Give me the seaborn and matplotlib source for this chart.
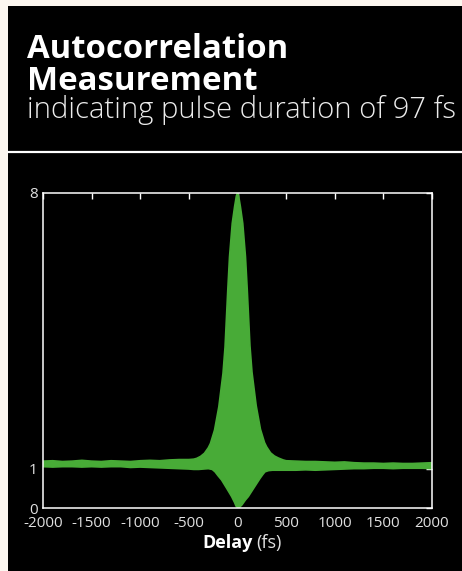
import numpy as np
import matplotlib
matplotlib.use("Agg")
import matplotlib.pyplot as plt
import seaborn as sns
from matplotlib import font_manager
from matplotlib.patches import Rectangle
from matplotlib.lines import Line2D

# upper envelope of the fringe-resolved autocorrelation (delay in fs, signal)
up_delay = [-2000, -1900, -1800, -1700, -1600, -1500, -1400, -1300, -1200, -1100,
            -1000, -900, -800, -700, -600, -500,
            -450, -420, -380, -340, -300, -278, -236, -192, -149, -128, -100, -82,
            -54, -30, -12, 0, 12, 30, 54, 82, 100, 128, 149, 192, 236, 278, 300,
            340, 380, 420, 470,
            500, 600, 700, 800, 900, 1000, 1100, 1200, 1300, 1400, 1500, 1600,
            1700, 1800, 1900, 2000]
up_val = [1.19, 1.20, 1.18, 1.19, 1.21, 1.19, 1.18, 1.20, 1.19, 1.18,
          1.20, 1.21, 1.20, 1.22, 1.23, 1.23,
          1.24, 1.26, 1.31, 1.39, 1.53, 1.64, 1.98, 2.57, 3.42, 4.09, 5.53, 6.38,
          7.23, 7.65, 7.92, 8.00, 7.92, 7.65, 7.23, 6.38, 5.55, 4.12, 3.45, 2.60,
          2.00, 1.66, 1.55, 1.40, 1.32, 1.27, 1.22,
          1.20, 1.19, 1.18, 1.18, 1.17, 1.16, 1.17, 1.15, 1.14, 1.14, 1.13, 1.14,
          1.13, 1.13, 1.14, 1.15]

# lower envelope
low_delay = [-2000, -1900, -1800, -1700, -1600, -1500, -1400, -1300, -1200, -1100,
             -1000, -900, -800, -700, -600, -500,
             -450, -400, -350, -300, -260, -231, -200, -163, -111, -60, -30, -15,
             5, 25, 46, 80, 111, 150, 197, 231, 260, 283, 320, 360, 420, 470,
             500, 600, 700, 800, 900, 1000, 1100, 1200, 1300, 1400, 1500, 1600,
             1700, 1800, 1900, 2000]
low_val = [1.05, 1.04, 1.05, 1.05, 1.04, 1.05, 1.04, 1.05, 1.05, 1.03,
           1.04, 1.03, 1.02, 1.01, 1.00, 0.99,
           0.98, 0.98, 0.99, 1.00, 0.98, 0.92, 0.82, 0.71, 0.50, 0.29, 0.14, 0.05,
           0.00, 0.03, 0.08, 0.20, 0.29, 0.44, 0.62, 0.75, 0.85, 0.92, 0.95, 0.96,
           0.96, 0.96,
           0.96, 0.96, 0.97, 0.96, 0.97, 0.98, 0.99, 1.00, 1.00, 1.01, 1.01, 1.00,
           1.01, 1.01, 1.01, 1.00]

x_ticks = [-2000, -1500, -1000, -500, 0, 500, 1000, 1500, 2000]
y_ticks = [0, 1, 8]

green = "#48ab37"
W, H = 462, 571

sns.set_style("dark")
plt.rcParams["font.family"] = ["Open Sans", "DejaVu Sans"]
plt.rcParams["axes.unicode_minus"] = False

# a light (300) face for the subtitle if one is installed
light_family, light_weight = "Open Sans", "normal"
for fam in ["Open Sans", "Roboto", "Noto Sans", "Inter"]:
    if any(f.name == fam and f.weight in (300, "light") for f in font_manager.fontManager.ttflist):
        light_family, light_weight = fam, "light"
        break

fig = plt.figure(figsize=(W / 100, H / 100), dpi=100)
fig.patch.set_facecolor("#fcf7f0")
fig.add_artist(Rectangle((8 / W, 0), 1 - 8 / W, 1 - 6 / H, transform=fig.transFigure,
                         facecolor="black", edgecolor="none", zorder=0))
fig.add_artist(Line2D([8 / W, 1], [1 - 151.5 / H] * 2, transform=fig.transFigure,
                      color="white", lw=1.6))

ax = fig.add_axes([43 / W, 1 - 508 / H, (432 - 43) / W, (508 - 193) / H])
ax.set_facecolor("black")

xs = np.r_[up_delay, low_delay[::-1]]
ys = np.r_[up_val, low_val[::-1]]
ax.fill(xs, ys, color=green, lw=0)
sns.lineplot(x=up_delay, y=up_val, ax=ax, color=green, lw=1.2)
sns.lineplot(x=low_delay, y=low_val, ax=ax, color=green, lw=1.2)

ax.set_xlim(-2000, 2000)
ax.set_ylim(0, 8)
ax.set_xticks(x_ticks)
ax.set_yticks(y_ticks)
ax.grid(False)
ax.tick_params(direction="in", length=4, width=1, color="white", top=True, right=True,
               labelsize=11, labelcolor="#e0e0e0", pad=4)
ax.tick_params(axis="x", pad=6)
for s in ax.spines.values():
    s.set_color("white")
    s.set_linewidth(1.1)

# header texts, scaled to the widths in the picture
r = fig.canvas.get_renderer()
def fit(txt, width):
    bb = txt.get_window_extent(r)
    txt.set_fontsize(txt.get_fontsize() * width / bb.width)

t1 = fig.text(27 / W, 1 - 58 / H, "Autocorrelation", color="white", fontsize=24,
              fontweight="bold", va="baseline")
t2 = fig.text(27 / W, 1 - 90 / H, "Measurement", color="white", fontsize=24,
              fontweight="bold", va="baseline")
t3 = fig.text(27 / W, 1 - 118 / H, "indicating pulse duration of 97 fs", color="#ececec",
              fontsize=18, fontweight=light_weight, va="baseline",
              family=[light_family, "DejaVu Sans"])
fit(t1, 261)
fit(t2, 231)
fit(t3, 430)

fig.text(253 / W, 1 - 548 / H, "Delay", color="white", fontsize=13, fontweight="bold",
         ha="right", va="baseline")
fig.text(256 / W, 1 - 548 / H, "(fs)", color="#e0e0e0", fontsize=13, ha="left",
         va="baseline")

fig.savefig("out.png", dpi=100, facecolor=fig.get_facecolor())
